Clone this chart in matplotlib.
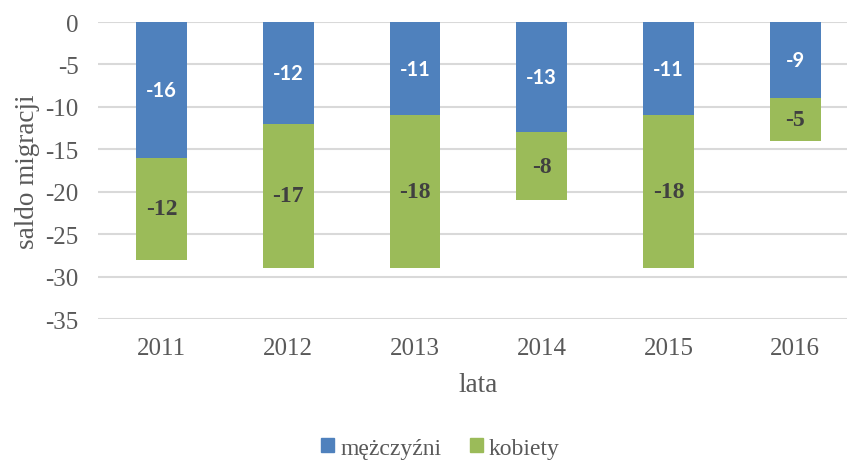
import numpy as np
import matplotlib.pyplot as plt
from matplotlib.patches import Patch

# dane
lata = ["2011", "2012", "2013", "2014", "2015", "2016"]
mezczyzni = [-16, -12, -11, -13, -11, -9]
kobiety = [-12, -17, -18, -8, -18, -5]

kolor_m = "#4F81BD"
kolor_k = "#9BBB59"
szary = "#595959"

plt.rcParams["font.family"] = ["Liberation Serif", "DejaVu Serif"]
plt.rcParams["axes.unicode_minus"] = False

fig = plt.figure(figsize=(8.47, 4.64), dpi=100)
ax = fig.add_axes([0.1157, 0.3103, 0.898, 0.6401])

x = np.arange(len(lata))
m = np.array(mezczyzni)
k = np.array(kobiety)

ax.bar(x, m, width=0.4, color=kolor_m, zorder=3)
ax.bar(x, k, width=0.4, bottom=m, color=kolor_k, zorder=3)

# etykiety wartosci
for xi, mv, kv in zip(x, m, k):
    ax.text(xi, mv / 2, str(mv), ha="center", va="center", color="white",
            fontsize=14.5, fontweight="bold", family=["Lato", "DejaVu Sans"], zorder=4)
    ax.text(xi, mv + kv / 2, str(kv), ha="center", va="center", color="#404040",
            fontsize=17, fontweight="bold", zorder=4)

ax.set_ylim(-35, 0)
ax.set_xlim(-0.5, len(lata) - 0.5)
ax.set_yticks(np.arange(-35, 1, 5))
ax.set_xticks(x)
ax.set_xticklabels(lata)
ax.yaxis.grid(True, color="#D9D9D9", linewidth=1.5, zorder=0)
ax.set_axisbelow(True)
for s in ax.spines.values():
    s.set_visible(False)
ax.tick_params(axis="both", length=0, labelsize=18, labelcolor=szary)
ax.tick_params(axis="y", pad=14)
ax.tick_params(axis="x", pad=13)

ax.set_ylabel("saldo migracji", fontsize=19.5, color=szary, labelpad=4)
ax.set_xlabel("lata", fontsize=19.5, color=szary, labelpad=9)

handles = [Patch(color=kolor_m), Patch(color=kolor_k)]
fig.legend(handles, ["mężczyźni", "kobiety"], loc="center",
           bbox_to_anchor=(0.52, 0.032), ncol=2, frameon=False,
           fontsize=17, handlelength=0.55, handleheight=0.55,
           handletextpad=0.25, columnspacing=1.2, labelcolor=szary)

fig.savefig("out.png", dpi=100)
